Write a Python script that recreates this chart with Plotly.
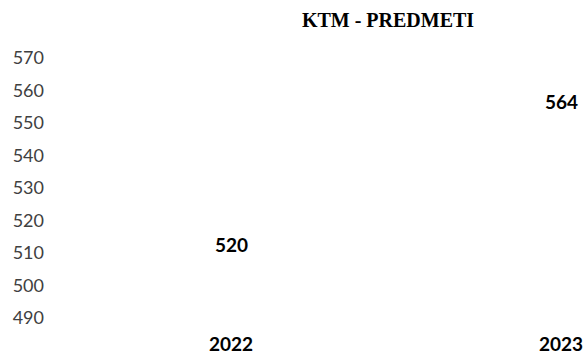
import plotly.graph_objects as go

categories = ["2022", "2023"]
values = [520, 564]
y_ticks = [490, 500, 510, 520, 530, 540, 550, 560, 570]
title_text = "KTM - PREDMETI"

fig = go.Figure()
fig.add_trace(go.Bar(
    x=categories, y=values,
    marker=dict(color="rgba(255,255,255,0)", line=dict(width=0)),
    hoverinfo="x+y", showlegend=False,
))

for i, v in enumerate(values):
    fig.add_annotation(
        x=i, y=v, xref="x", yref="y", text=f"<b>{v}</b>", showarrow=False,
        yshift=-24, font=dict(family="Lato", size=19, color="#000000"),
    )

fig.update_layout(
    width=585, height=355,
    margin=dict(l=50, r=0, t=45, b=30),
    paper_bgcolor="white", plot_bgcolor="white",
    title=dict(
        text=f"<b>{title_text}</b>",
        x=388 / 585, xref="container", xanchor="center",
        y=1 - 20 / 355, yref="container", yanchor="middle",
        font=dict(family="Liberation Serif", size=20, color="#000000"),
    ),
    xaxis=dict(
        type="category", range=[-0.5485, 1.0727], automargin=False,
        showgrid=False, showline=False, zeroline=False, ticks="",
        tickfont=dict(family="Lato", size=19, color="#000000", weight="bold"),
        ticklabelstandoff=6,
    ),
    yaxis=dict(
        range=[487.85, 574], automargin=False,
        tickvals=y_ticks, ticktext=[str(t) for t in y_ticks],
        showgrid=False, showline=False, zeroline=False, ticks="",
        tickfont=dict(family="Lato", size=18, color="#404040"),
        ticklabelstandoff=5,
    ),
    bargap=0.5,
)

fig.write_html(
    "out.html",
    config={"displayModeBar": False},
    post_script="document.body.style.margin='0px';document.body.style.overflow='hidden';",
)
